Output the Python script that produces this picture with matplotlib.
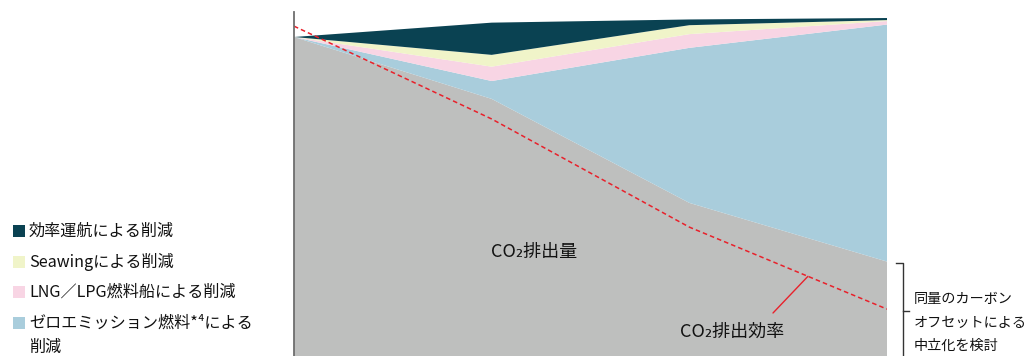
import matplotlib
matplotlib.use("Agg")
import matplotlib.pyplot as plt
import numpy as np
from matplotlib.patches import Rectangle
from matplotlib.lines import Line2D

plt.rcParams['font.family'] = ['Noto Sans CJK JP', 'DejaVu Sans']

# ---- data (index, 2020 emissions = 100) ----
periods = [0, 1, 2, 3]
co2_emissions = [100.0, 80.6, 48.0, 29.6]
zero_emission = [0.0, 5.6, 48.6, 74.3]
lng_lpg = [0.0, 4.5, 4.3, 1.1]
seawing = [0.0, 3.7, 2.8, 0.3]
efficient_ops = [0.0, 10.1, 1.8, 0.65]
co2_intensity = [103.4, 74.3, 40.4, 14.7]

series_labels = ["効率運航による削減", "Seawingによる削減", "LNG／LPG燃料船による削減",
                 "ゼロエミッション燃料*⁴による\n削減"]
colors = {"gray": "#bebfbe", "zero": "#a9cddc", "lng": "#f8d5e4",
          "seawing": "#f0f4c9", "eff": "#0a4252"}

W, H = 1030, 356
fig = plt.figure(figsize=(W / 100, H / 100), dpi=100)
ax = fig.add_axes([294 / W, 0, (887 - 294) / W, (H - 12) / H])

ax.stackplot(periods, co2_emissions, zero_emission, lng_lpg, seawing, efficient_ops,
             colors=[colors["gray"], colors["zero"], colors["lng"], colors["seawing"], colors["eff"]],
             linewidth=0)
ax.plot(periods, co2_intensity, color="#e8212b", lw=1.1, ls=(0, (3, 2)))

ax.set_xlim(0, 3)
ax.set_ylim(0, (H - 12) / 3.19)
for s in ["top", "right", "bottom"]:
    ax.spines[s].set_visible(False)
ax.spines["left"].set_color("#6e6e6e")
ax.spines["left"].set_linewidth(1.3)
ax.set_xticks([])
ax.set_yticks([])

def fy(py):
    return 1 - py / H

# in-chart labels
fig.text(534 / W, fy(252), "CO₂排出量", ha="center", va="center", fontsize=13, color="#111111")
fig.text(732 / W, fy(332), "CO₂排出効率", ha="center", va="center", fontsize=13, color="#111111")

# leader line to intensity line
xl = 2.6
yl = float(np.interp(xl, periods, co2_intensity))
ax.annotate("", xy=(xl, yl), xycoords="data",
            xytext=(773 / W, fy(313)), textcoords="figure fraction",
            arrowprops=dict(arrowstyle="-", color="#e8212b", lw=1.0, shrinkA=0, shrinkB=0))

# bracket on right
fig.add_artist(Line2D([896 / W, 903 / W, 903 / W], [fy(263), fy(263), fy(360)],
                      transform=fig.transFigure, color="#333333", lw=1.0))
fig.add_artist(Line2D([903 / W, 909 / W], [fy(311), fy(311)],
                      transform=fig.transFigure, color="#333333", lw=1.0))
for txt, py in [("同量のカーボン", 299), ("オフセットによる", 323), ("中立化を検討", 346)]:
    fig.text(914 / W, fy(py), txt, ha="left", va="center", fontsize=10.2, color="#111111")

# legend
leg_colors = [colors["eff"], colors["seawing"], colors["lng"], colors["zero"]]
leg_y = [231, 262, 292, 323]
for lab, c, py in zip(series_labels, leg_colors, leg_y):
    fig.add_artist(Rectangle((13 / W, fy(py + 6)), 12 / W, 12 / H, transform=fig.transFigure,
                             facecolor=c, edgecolor="none"))
    lines = lab.split("\n")
    fig.text(29 / W, fy(py), lines[0], ha="left", va="center", fontsize=11.6, color="#111111")
    if len(lines) > 1:
        fig.text(29 / W, fy(py + 24), lines[1], ha="left", va="center", fontsize=11.6, color="#111111")

fig.savefig("out.png", dpi=100)
